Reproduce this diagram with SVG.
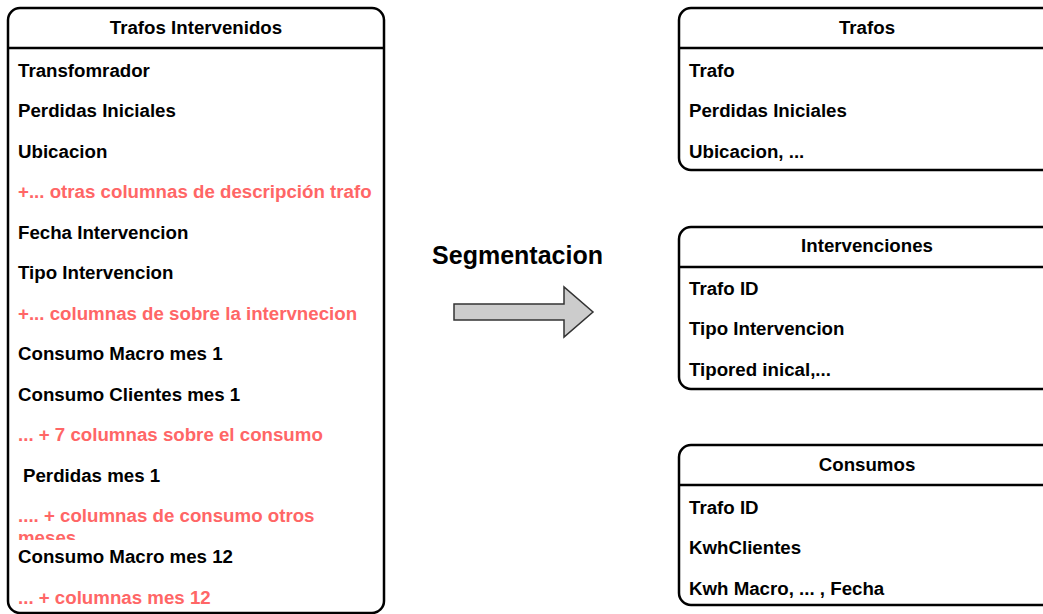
<svg xmlns="http://www.w3.org/2000/svg" width="1043" height="614" viewBox="0 0 1043 614">
<style>
.box{fill:#fff;stroke:#000;stroke-width:2.5}
.sep{stroke:#000;stroke-width:2.5}
.t{font-family:"Liberation Sans",Arial,sans-serif;font-weight:bold;font-size:18.7px;fill:#000}
.h{text-anchor:middle}
.r{fill:#ff6666}
</style>
<defs>
<clipPath id="clipMeses"><rect x="8" y="495" width="376" height="45"/></clipPath>
</defs>
<g id="trafos-intervenidos">
<rect class="box" x="8" y="8" width="376" height="605" rx="12"/>
<line class="sep" x1="8" y1="48" x2="384" y2="48"/>
<text class="t h" x="196" y="33.5">Trafos Intervenidos</text>
<text class="t" x="18" y="76.5">Transfomrador</text>
<text class="t" x="18" y="117">Perdidas Iniciales</text>
<text class="t" x="18" y="157.5">Ubicacion</text>
<text class="t r" x="18" y="198">+... otras columnas de descripción trafo</text>
<text class="t" x="18" y="238.5">Fecha Intervencion</text>
<text class="t" x="18" y="279">Tipo Intervencion</text>
<text class="t r" x="18" y="319.5">+... columnas de sobre la intervnecion</text>
<text class="t" x="18" y="360">Consumo Macro mes 1</text>
<text class="t" x="18" y="400.5">Consumo Clientes mes 1</text>
<text class="t r" x="18" y="441">... + 7 columnas sobre el consumo</text>
<text class="t" x="18" y="481.5"> <tspan x="23">Perdidas mes 1</tspan></text>
<g clip-path="url(#clipMeses)">
<text class="t r" x="18" y="522">.... + columnas de consumo otros<tspan x="18" y="544">meses</tspan></text>
</g>
<text class="t" x="18" y="562.5">Consumo Macro mes 12</text>
<text class="t r" x="18" y="603.5">... + columnas mes 12</text>
</g>
<g id="trafos">
<rect class="box" x="679" y="8" width="376" height="162" rx="12"/>
<line class="sep" x1="679" y1="48" x2="1055" y2="48"/>
<text class="t h" x="867" y="33.5">Trafos</text>
<text class="t" x="689" y="76.5">Trafo</text>
<text class="t" x="689" y="117">Perdidas Iniciales</text>
<text class="t" x="689" y="157.5">Ubicacion, ...</text>
</g>
<g id="intervenciones">
<rect class="box" x="679" y="227" width="376" height="162" rx="12"/>
<line class="sep" x1="679" y1="267" x2="1055" y2="267"/>
<text class="t h" x="867" y="251.5">Intervenciones</text>
<text class="t" x="689" y="294.5">Trafo ID</text>
<text class="t" x="689" y="335">Tipo Intervencion</text>
<text class="t" x="689" y="375.5">Tipored inical,...</text>
</g>
<g id="consumos">
<rect class="box" x="679" y="445" width="376" height="160" rx="12"/>
<line class="sep" x1="679" y1="485" x2="1055" y2="485"/>
<text class="t h" x="867" y="470.5">Consumos</text>
<text class="t" x="689" y="513.5">Trafo ID</text>
<text class="t" x="689" y="554">KwhClientes</text>
<text class="t" x="689" y="594.5">Kwh Macro, ... , Fecha</text>
</g>
<g id="connectors">
<text class="t h" x="517.5" y="263.5" style="font-size:25px">Segmentacion</text>
<path d="M454,304 L564,304 L564,287 L593,312 L564,337 L564,320 L454,320 Z" fill="#cccccc" stroke="#333333" stroke-width="1.5"/>
</g>
</svg>
